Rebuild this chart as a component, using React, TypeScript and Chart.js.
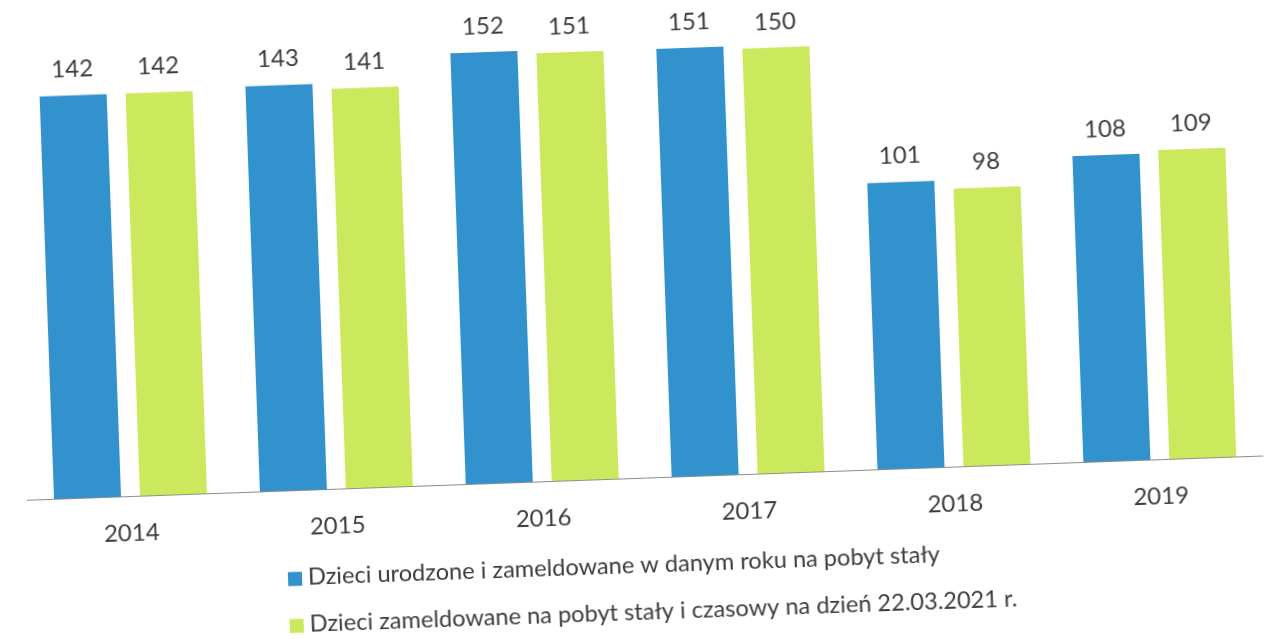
import React, { useEffect, useRef } from "react";
import { Chart, registerables } from "chart.js";

Chart.register(...registerables);

const years = ["2014", "2015", "2016", "2017", "2018", "2019"];
const bornAndRegistered = [142, 143, 152, 151, 101, 108];
const registeredPermTemp = [142, 141, 151, 150, 98, 109];
const seriesNames = [
  "Dzieci urodzone i zameldowane w danym roku na pobyt stały",
  "Dzieci zameldowane na pobyt stały i czasowy na dzień 22.03.2021 r.",
];
const seriesColors = ["#3192CE", "#CCE95D"];
const yMax = 160.5;

const FONT = "Lato, 'Open Sans', sans-serif";
const TEXT = "#3c3c3c";

const valueLabels = {
  id: "valueLabels",
  afterDatasetsDraw(chart: any) {
    const ctx = chart.ctx;
    ctx.save();
    ctx.font = `24px ${FONT}`;
    ctx.fillStyle = TEXT;
    ctx.textAlign = "center";
    ctx.textBaseline = "middle";
    chart.data.datasets.forEach((ds: any, i: number) => {
      const meta = chart.getDatasetMeta(i);
      meta.data.forEach((el: any, j: number) => {
        ctx.fillText(String(ds.data[j]), el.x, el.y - 26);
      });
    });
    ctx.restore();
  },
};

const rowLegend = {
  id: "rowLegend",
  afterDraw(chart: any) {
    const ctx = chart.ctx;
    const left = 279;
    const box = 14;
    const textX = left + box + 6;
    const firstY = chart.chartArea.bottom + 88.5;
    const rowGap = 47;
    ctx.save();
    ctx.font = `23.6px ${FONT}`;
    ctx.textAlign = "left";
    ctx.textBaseline = "middle";
    chart.data.datasets.forEach((ds: any, i: number) => {
      const y = firstY + i * rowGap;
      ctx.fillStyle = ds.backgroundColor;
      ctx.fillRect(left, y - box / 2, box, box);
      ctx.fillStyle = TEXT;
      ctx.fillText(ds.label, textX, y - 1);
    });
    ctx.restore();
  },
};

export default function App() {
  const canvasRef = useRef<HTMLCanvasElement | null>(null);

  useEffect(() => {
    if (!canvasRef.current) return;
    const chart = new Chart(canvasRef.current, {
      type: "bar",
      data: {
        labels: years,
        datasets: [
          {
            label: seriesNames[0],
            data: bornAndRegistered,
            backgroundColor: seriesColors[0],
            categoryPercentage: 0.835,
            barPercentage: 0.78,
          },
          {
            label: seriesNames[1],
            data: registeredPermTemp,
            backgroundColor: seriesColors[1],
            categoryPercentage: 0.835,
            barPercentage: 0.78,
          },
        ],
      },
      options: {
        responsive: false,
        animation: false,
        layout: { padding: { left: 21.5, right: 6.5, top: 23, bottom: 86 } },
        plugins: {
          legend: { display: false },
          tooltip: { enabled: false },
        },
        scales: {
          x: {
            grid: { display: false, drawTicks: false },
            border: { display: true, color: "#8c8c8c", width: 1 },
            ticks: {
              color: TEXT,
              font: { family: FONT, size: 24 },
              padding: 23,
            },
          },
          y: { display: false, min: 0, max: yMax },
        },
      },
      plugins: [valueLabels, rowLegend],
    });
    return () => chart.destroy();
  }, []);

  return (
    <div
      style={{
        position: "absolute",
        left: 0,
        top: 0,
        width: 1264,
        height: 639,
        transform: "rotate(-2.05deg)",
        transformOrigin: "632px 319.5px",
        background: "#fff",
      }}
    >
      <canvas ref={canvasRef} width={1264} height={639} style={{ display: "block" }} />
    </div>
  );
}
